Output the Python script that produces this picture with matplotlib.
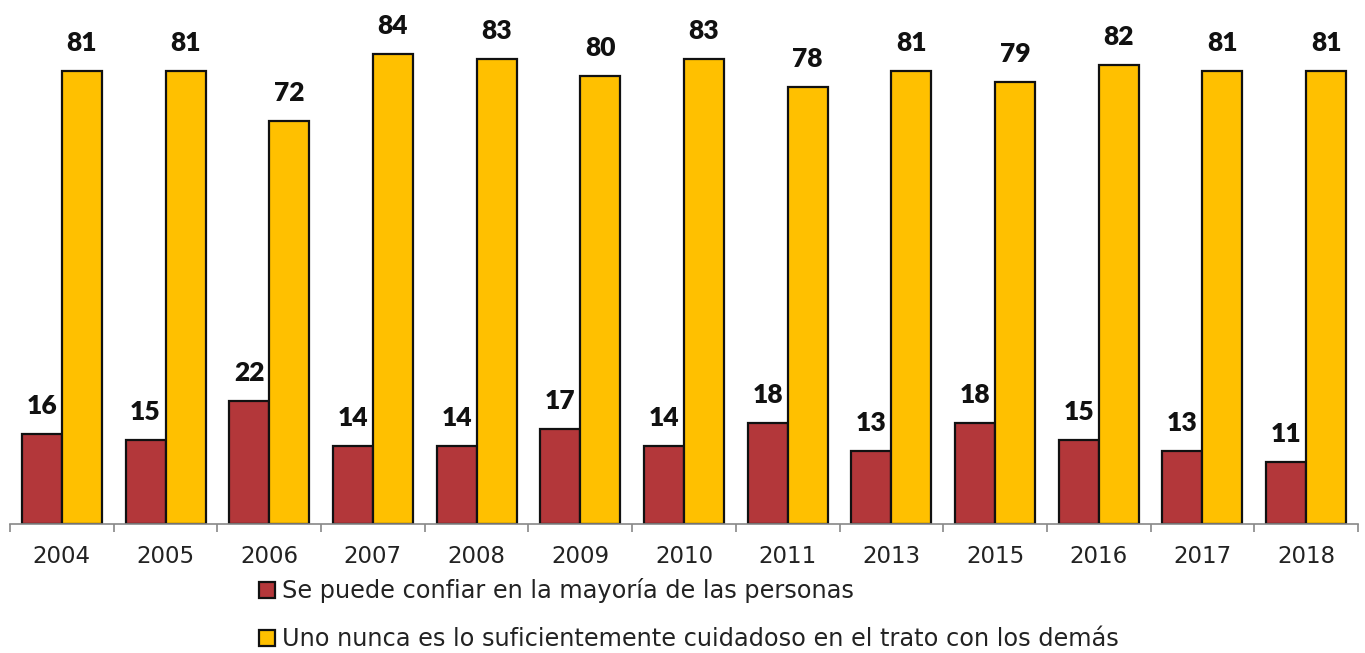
import matplotlib.pyplot as plt
from matplotlib.patches import Patch
import numpy as np

years = ["2004", "2005", "2006", "2007", "2008", "2009", "2010",
         "2011", "2013", "2015", "2016", "2017", "2018"]
confiar = [16, 15, 22, 14, 14, 17, 14, 18, 13, 18, 15, 13, 11]
cuidadoso = [81, 81, 72, 84, 83, 80, 83, 78, 81, 79, 82, 81, 81]
series_labels = ["Se puede confiar en la mayoría de las personas",
                 "Uno nunca es lo suficientemente cuidadoso en el trato con los demás"]
colors = ["#B3373A", "#FFC000"]

plt.rcParams['font.family'] = ['DejaVu Sans']

fig = plt.figure(figsize=(13.65, 6.53), dpi=100)
ax = fig.add_axes([10 / 1365, 1 - 524 / 653, 1348 / 1365, 524 / 653])

x = np.arange(len(years))
w = 0.386
b1 = ax.bar(x - w / 2, confiar, w, color=colors[0], edgecolor="#111111", linewidth=1.6)
b2 = ax.bar(x + w / 2, cuidadoso, w, color=colors[1], edgecolor="#111111", linewidth=1.6)

for bars, vals in ((b1, confiar), (b2, cuidadoso)):
    for r, v in zip(bars, vals):
        ax.annotate(str(v), (r.get_x() + r.get_width() / 2, v),
                    xytext=(0, 11.5), textcoords="offset points",
                    ha="center", va="bottom", fontsize=19,
                    fontweight="heavy", family=["Lato", "DejaVu Sans"],
                    color="#111111")

ax.set_xlim(-0.5, len(years) - 0.5)
ax.set_ylim(0, 93.6)
for s in ("top", "right", "left"):
    ax.spines[s].set_visible(False)
ax.spines["bottom"].set_color("#888888")
ax.spines["bottom"].set_linewidth(1.2)
ax.set_yticks([])
ax.set_xticks(x)
ax.set_xticklabels(years, fontsize=16.5, color="#222222")
ax.tick_params(axis="x", which="major", length=0, pad=15)
ax.set_xticks(np.arange(-0.5, len(years)), minor=True)
ax.tick_params(axis="x", which="minor", length=6, width=1.2, color="#888888")

handles = [Patch(facecolor=c, edgecolor="#111111", linewidth=1.6) for c in colors]
fig.legend(handles, series_labels, loc="upper left",
           bbox_to_anchor=(259 / 1365, 1 - 578 / 653), frameon=False,
           fontsize=17.3, handlelength=0.65, handleheight=0.65,
           handletextpad=0.3, labelspacing=1.0, borderaxespad=0, borderpad=0,
           labelcolor="#222222")

fig.savefig("out.png", dpi=100)
